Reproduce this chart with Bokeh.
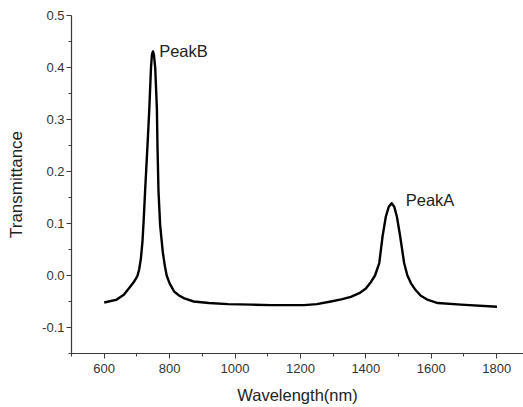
from bokeh.plotting import figure
from bokeh.models import FixedTicker, NumeralTickFormatter, Range1d, ColumnDataSource
from bokeh.core.properties import value
from bokeh.embed import file_html
from bokeh.resources import INLINE

# Transmittance spectrum
wavelength = [600, 636, 660, 680, 690, 697, 702, 707, 712, 717, 721, 725, 729, 733,
              738, 743, 746, 749, 752, 756, 761, 763, 766, 771, 779, 785, 791, 800,
              814, 830, 845, 874, 920, 978, 1050, 1110, 1211, 1250, 1293, 1325,
              1354, 1380, 1400, 1415, 1428, 1441, 1451, 1461, 1470, 1479, 1487,
              1495, 1505, 1517, 1527, 1538, 1552, 1568, 1590, 1620, 1691, 1801]
transmittance = [-0.052, -0.047, -0.037, -0.021, -0.013, -0.006, 0.000, 0.012, 0.032,
                 0.065, 0.110, 0.162, 0.210, 0.258, 0.322, 0.399, 0.425, 0.431, 0.425,
                 0.399, 0.322, 0.245, 0.162, 0.097, 0.046, 0.020, 0.000, -0.015,
                 -0.031, -0.039, -0.044, -0.050, -0.053, -0.055, -0.056, -0.057,
                 -0.057, -0.055, -0.050, -0.046, -0.041, -0.034, -0.025, -0.013,
                 0.000, 0.024, 0.075, 0.113, 0.132, 0.139, 0.132, 0.113, 0.075,
                 0.024, 0.000, -0.015, -0.028, -0.039, -0.047, -0.053, -0.056, -0.060]

x_ticks = [600, 800, 1000, 1200, 1400, 1600, 1800]
x_minor = [500, 700, 900, 1100, 1300, 1500, 1700]
y_ticks = [-0.1, 0.0, 0.1, 0.2, 0.3, 0.4, 0.5]
y_minor = [-0.15, -0.05, 0.05, 0.15, 0.25, 0.35, 0.45]

peak_labels = ["PeakB", "PeakA"]
peak_x = [768, 1522]
peak_y = [0.431, 0.145]

FONT = "Liberation Sans"
AXC = "#3a3a3a"

p = figure(width=523, height=407, output_backend="svg", toolbar_location=None,
           x_range=Range1d(500, 1882), y_range=Range1d(-0.15, 0.5),
           min_border_left=71, min_border_top=15, min_border_right=0, min_border_bottom=54)
p.outline_line_color = None
p.xgrid.visible = False
p.ygrid.visible = False
p.background_fill_color = "white"

src = ColumnDataSource(dict(x=wavelength, y=transmittance))
p.line("x", "y", source=src, line_color="black", line_width=2.4, line_join="round")

p.text(x=peak_x, y=peak_y, text=peak_labels, text_font=value(FONT),
       text_font_size="16.5px", text_color="#222222", text_align="left",
       text_baseline="middle")

for ax in (p.xaxis[0], p.yaxis[0]):
    ax.axis_line_color = AXC
    ax.axis_line_width = 1.2
    ax.major_tick_line_color = AXC
    ax.minor_tick_line_color = AXC
    ax.major_tick_out = 5
    ax.major_tick_in = 0
    ax.minor_tick_out = 3
    ax.minor_tick_in = 0
    ax.major_label_text_font = FONT
    ax.major_label_text_font_size = "13px"
    ax.major_label_text_color = "#333333"
    ax.axis_label_text_font = FONT
    ax.axis_label_text_font_style = "normal"
    ax.axis_label_text_color = "#222222"

p.xaxis.ticker = FixedTicker(ticks=x_ticks, minor_ticks=x_minor)
p.yaxis.ticker = FixedTicker(ticks=y_ticks, minor_ticks=y_minor)
p.yaxis.formatter = NumeralTickFormatter(format="0.0")
p.xaxis.axis_label = "Wavelength(nm)"
p.yaxis.axis_label = "Transmittance"
p.xaxis.axis_label_text_font_size = "16.5px"
p.yaxis.axis_label_text_font_size = "17px"
p.xaxis.major_label_standoff = 5
p.xaxis.axis_label_standoff = 10
p.yaxis.major_label_standoff = 2
p.yaxis.axis_label_standoff = 13

open("out.html", "w").write(file_html(p, INLINE))
